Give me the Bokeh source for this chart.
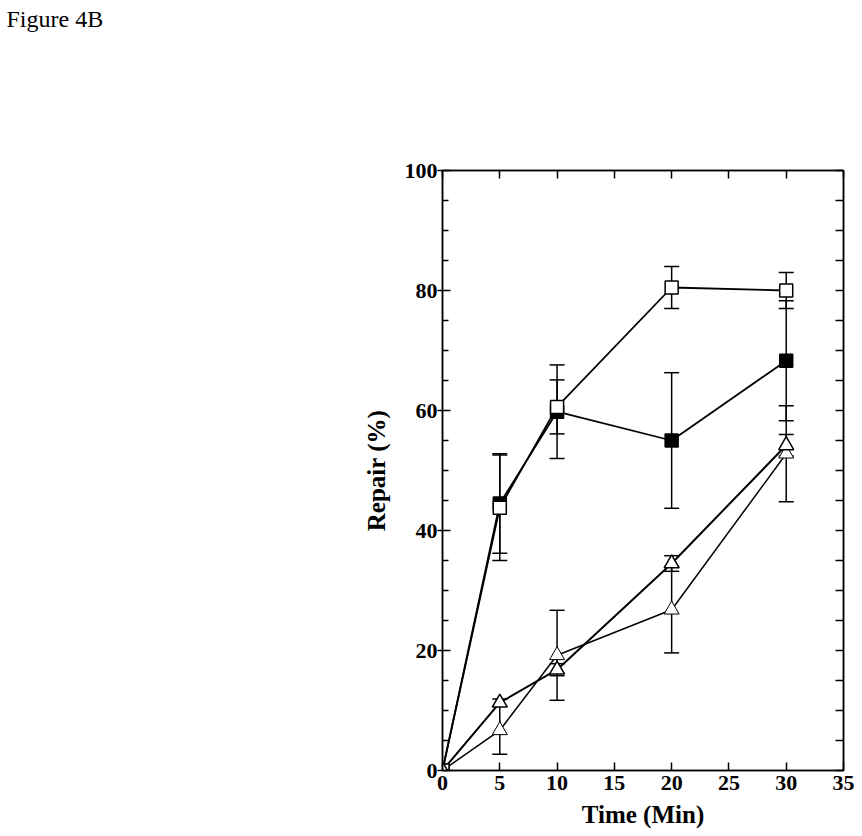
from bokeh.plotting import figure
from bokeh.models import (ColumnDataSource, Whisker, TeeHead, LinearAxis, FixedTicker,
                          CustomJSTickFormatter, Title, Range1d)
from bokeh.embed import file_html
from bokeh.resources import INLINE

# ---- data ----
time = [0, 5, 10, 20, 30]
open_sq = [0, 43.8, 60.6, 80.5, 80.0]
open_sq_err = [0, 8.8, 4.5, 3.5, 3.0]
filled_sq = [0, 44.5, 59.8, 55.0, 68.3]
filled_sq_err = [0, 8.3, 7.8, 11.3, 10.0]
tri_a = [0, 11.3, 16.8, 34.5, 54.2]
tri_a_err = [0, 0.6, 1.0, 1.3, 1.8]
tri_b = [0, 6.7, 19.2, 26.8, 52.8]
tri_b_err = [0, 4.0, 7.5, 7.2, 8.0]

x_ticks = [0, 5, 10, 15, 20, 25, 30, 35]
y_ticks = [0, 20, 40, 60, 80, 100]
y_minor = [5, 10, 15, 25, 30, 35, 45, 50, 55, 65, 70, 75, 85, 90, 95]

FONT = "Liberation Serif"

W, H = 862, 836
p = figure(width=W, height=H, output_backend="svg", toolbar_location=None,
           x_range=Range1d(0, 35), y_range=Range1d(0, 100),
           min_border_left=442, min_border_right=19, min_border_top=170, min_border_bottom=66)
p.xgrid.visible = False
p.ygrid.visible = False
p.outline_line_color = "black"
p.outline_line_width = 1.5
p.background_fill_color = "white"
p.border_fill_color = "white"

p.title = Title(text="Figure 4B", align="left", offset=-436, standoff=0,
                text_font=FONT, text_font_size="24px", text_font_style="normal",
                text_color="black")

xt = FixedTicker(ticks=x_ticks)
yt = FixedTicker(ticks=y_ticks, minor_ticks=y_minor)

xa = p.xaxis[0]
xa.ticker = xt
xa.axis_label = "Time (Min)"
xa.axis_label_text_font = FONT
xa.axis_label_text_font_style = "bold"
xa.axis_label_text_font_size = "25px"
xa.axis_label_text_color = "black"
xa.axis_label_standoff = 8
xa.major_label_text_font = FONT
xa.major_label_text_font_style = "bold"
xa.major_label_text_font_size = "22px"
xa.major_label_text_color = "black"
xa.major_label_standoff = 5
xa.major_tick_in = 8
xa.major_tick_out = 0
xa.minor_tick_line_color = None
xa.axis_line_width = 1.5
xa.major_tick_line_width = 1.5

ya = p.yaxis[0]
ya.ticker = yt
ya.axis_label = "Repair (%)"
ya.axis_label_text_font = FONT
ya.axis_label_text_font_style = "bold"
ya.axis_label_text_font_size = "25px"
ya.axis_label_text_color = "black"
ya.axis_label_standoff = 12
ya.major_label_text_font = FONT
ya.major_label_text_font_style = "bold"
ya.major_label_text_font_size = "22px"
ya.major_label_text_color = "black"
ya.major_label_standoff = 0
ya.major_tick_in = 8
ya.major_tick_out = 5
ya.minor_tick_in = 6
ya.minor_tick_out = 0
ya.axis_line_width = 1.5
ya.major_tick_line_width = 1.5
ya.minor_tick_line_width = 1.5

empty = CustomJSTickFormatter(code="return ''")
top = LinearAxis(ticker=xt, formatter=empty, major_tick_in=8, major_tick_out=0,
                 minor_tick_line_color=None, axis_line_width=1.5, major_tick_line_width=1.5,
                 major_label_standoff=0)
right = LinearAxis(ticker=yt, formatter=empty, major_tick_in=8, major_tick_out=0,
                   minor_tick_in=8, minor_tick_out=0, axis_line_width=1.5,
                   major_tick_line_width=1.5, minor_tick_line_width=1.5, major_label_standoff=0)
p.add_layout(top, "above")
p.add_layout(right, "right")

# blank spacer between the top axis and the figure caption
spacer = Title(text=" ", text_font=FONT, text_font_size="10px", standoff=126)
p.add_layout(spacer, "above")

series = [
    (filled_sq, filled_sq_err, "square", "black", 1.8, 13, 1.5),
    (open_sq, open_sq_err, "square", "white", 1.8, 13, 1.5),
    (tri_b, tri_b_err, "triangle", "white", 1.5, 15, 1.0),
    (tri_a, tri_a_err, "triangle", "white", 2.0, 15, 1.5),
]

for vals, errs, marker, fill, lw, size, mlw in series:
    src = ColumnDataSource(dict(
        x=time[1:], y=vals[1:],
        upper=[v + e for v, e in zip(vals[1:], errs[1:])],
        lower=[v - e for v, e in zip(vals[1:], errs[1:])],
    ))
    w = Whisker(source=src, base="x", upper="upper", lower="lower",
                line_color="black", line_width=1.5,
                upper_head=TeeHead(size=15, line_width=1.5, line_color="black"),
                lower_head=TeeHead(size=15, line_width=1.5, line_color="black"))
    p.add_layout(w)
    p.line(time, vals, line_color="black", line_width=lw)

for vals, errs, marker, fill, lw, size, mlw in series:
    p.scatter(time, vals, marker=marker, size=size, fill_color=fill,
              line_color="black", line_width=mlw)

open("out.html", "w").write(file_html(p, INLINE))
